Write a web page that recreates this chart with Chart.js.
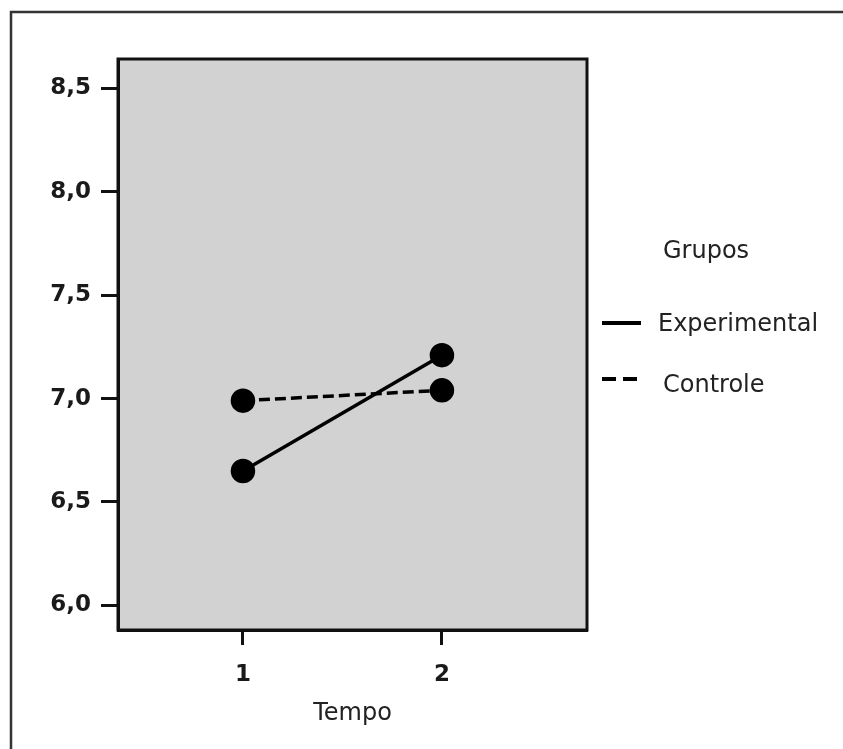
<!DOCTYPE html>
<html>
<head>
<meta charset="utf-8">
<script src="https://cdn.jsdelivr.net/npm/chart.js@4.4.1/dist/chart.umd.min.js"></script>
<style>
  html, body { margin: 0; padding: 0; background: #fff; }
  #wrap { width: 843px; height: 749px; position: relative; }
</style>
</head>
<body>
<div id="wrap"><canvas id="lineChart" width="843" height="749"></canvas></div>
<script>
const tempos = [1, 2];
const experimental = [6.65, 7.21];
const controle = [6.99, 7.04];
const yTicks = [6.0, 6.5, 7.0, 7.5, 8.0, 8.5];
const legendTitle = 'Grupos';
const xTitle = 'Tempo';

const ctx = document.getElementById('lineChart');

// grey plot background + frame, and the outer box around the figure
const framePlugin = {
  id: 'frame',
  beforeDraw(chart) {
    const c = chart.ctx;
    const a = chart.chartArea;
    c.save();
    c.strokeStyle = '#333';
    c.lineWidth = 2.5;
    c.strokeRect(11, 12, 1000, 1000);
    c.fillStyle = '#d2d2d2';
    c.fillRect(a.left, a.top, a.right - a.left, a.bottom - a.top);
    c.restore();
  },
  afterDatasetsDraw(chart) {
    const c = chart.ctx;
    const a = chart.chartArea;
    c.save();
    c.strokeStyle = '#111';
    c.lineWidth = 3;
    c.strokeRect(a.left, a.top, a.right - a.left, a.bottom - a.top);
    c.restore();
  }
};

// legend drawn to the right of the plot, like the SPSS output
const legendPlugin = {
  id: 'groupLegend',
  afterDraw(chart) {
    const c = chart.ctx;
    c.save();
    c.fillStyle = '#222';
    c.textBaseline = 'middle';
    c.font = '24px "DejaVu Sans"';
    c.fillText(legendTitle, 663, 252);
    const rows = [
      { y: 323, x0: 602, x1: 641, tx: 658 },
      { y: 379, x0: 602, x1: 637, tx: 663 }
    ];
    chart.data.datasets.forEach((ds, i) => {
      const r = rows[i];
      c.strokeStyle = '#000';
      c.lineWidth = 4;
      c.setLineDash(ds.borderDash && ds.borderDash.length ? [14, 7] : []);
      c.beginPath();
      c.moveTo(r.x0, r.y);
      c.lineTo(r.x1, r.y);
      c.stroke();
      c.setLineDash([]);
      c.fillText(ds.label, r.tx, r.y + (i === 1 ? 7 : 2));
    });
    c.restore();
  }
};

new Chart(ctx, {
  type: 'line',
  data: {
    datasets: [{
      label: 'Experimental',
      data: tempos.map((t, i) => ({ x: t, y: experimental[i] })),
      borderColor: '#000',
      backgroundColor: '#000',
      borderWidth: 3.5,
      pointRadius: 10.5,
      pointHoverRadius: 10.5,
      fill: false
    }, {
      label: 'Controle',
      data: tempos.map((t, i) => ({ x: t, y: controle[i] })),
      borderColor: '#000',
      backgroundColor: '#000',
      borderWidth: 3.5,
      borderDash: [11, 5],
      pointRadius: 10.5,
      pointHoverRadius: 10.5,
      fill: false
    }]
  },
  options: {
    responsive: false,
    animation: false,
    events: [],
    layout: { padding: { top: 59, right: 256, bottom: 0, left: 0 } },
    plugins: {
      legend: { display: false },
      tooltip: { enabled: false }
    },
    scales: {
      x: {
        type: 'linear',
        min: 0.372,
        max: 2.729,
        afterFit(scale) { scale.height = 119; },
        afterBuildTicks(scale) { scale.ticks = tempos.map(v => ({ value: v })); },
        grid: { display: true, drawOnChartArea: false, drawTicks: true, tickLength: 15, tickWidth: 3, tickColor: '#111' },
        border: { display: true, color: '#111', width: 3 },
        ticks: {
          padding: 16,
          color: '#1a1a1a',
          font: { family: 'DejaVu Sans', size: 23, weight: 'bold' },
          callback: v => String(v)
        },
        title: {
          display: true,
          text: xTitle,
          color: '#222',
          font: { family: 'DejaVu Sans', size: 24 },
          padding: { top: 0, bottom: 21 }
        }
      },
      y: {
        type: 'linear',
        min: 5.881,
        max: 8.642,
        afterFit(scale) { scale.width = 118; },
        afterBuildTicks(scale) { scale.ticks = yTicks.map(v => ({ value: v })); },
        grid: { display: true, drawOnChartArea: false, drawTicks: true, tickLength: 17, tickWidth: 3, tickColor: '#111' },
        border: { display: true, color: '#111', width: 3 },
        ticks: {
          padding: 10,
          color: '#1a1a1a',
          font: { family: 'DejaVu Sans', size: 23, weight: 'bold' },
          callback: v => v.toFixed(1).replace('.', ',')
        }
      }
    }
  },
  plugins: [framePlugin, legendPlugin]
});
</script>
</body>
</html>
